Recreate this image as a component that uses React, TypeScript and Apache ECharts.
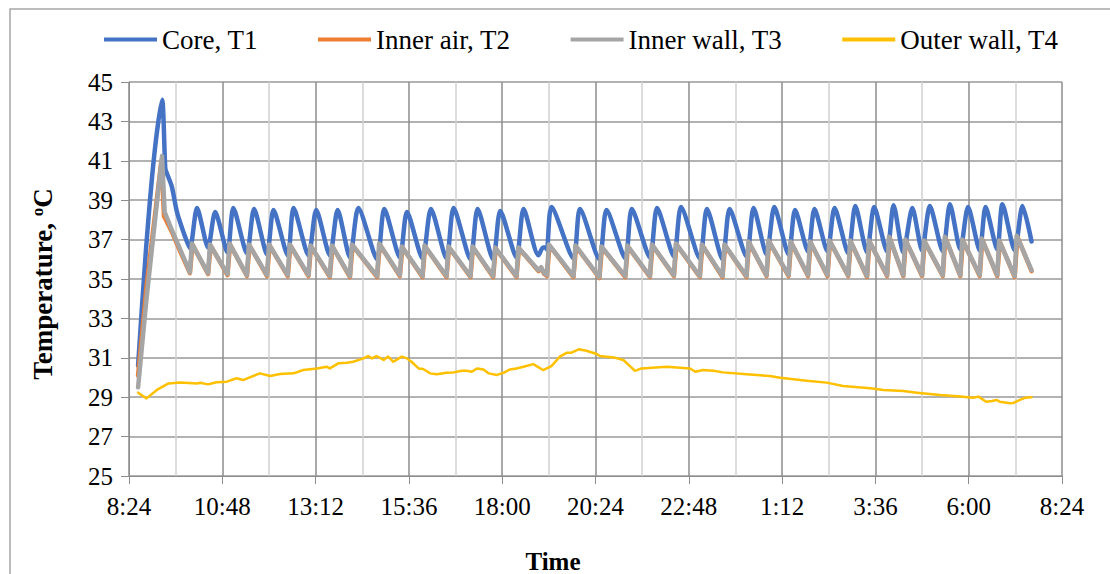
import React, { useEffect, useRef } from "react";
import * as echarts from "echarts";

// Time is in minutes elapsed since the axis origin (8:24); temperatures in °C.
const axisOriginClock = "8:24";
const axisSpanMin = 1440;
const majorStepMin = 144;

const seriesNames = ["Core, T1", "Inner air, T2", "Inner wall, T3", "Outer wall, T4"];

const coreT1: [number, number][] = [
  [14, 30.6], [26, 36.4], [39, 41.3], [51, 44.1], [56, 40.6], [58, 40.4], [66, 39.7], [74, 38.4], [86, 37.2],
  [94, 36.55], [105, 38.6], [122, 36.6], [133, 38.4], [152, 36.35], [161, 38.6], [182, 36.3], [193, 38.55],
  [213, 36.25], [223, 38.5], [245, 36.2], [254, 38.6], [277, 36.2], [289, 38.5], [310, 36.2], [322, 38.5],
  [341, 36.1], [354, 38.6], [383, 36.0], [394, 38.55], [418, 36.1], [429, 38.4], [453, 36.05], [466, 38.55],
  [490, 36.05], [501, 38.6], [527, 36.0], [538, 38.55], [562, 36.0], [573, 38.45], [598, 36.1], [609, 38.55],
  [632, 36.2], [639, 36.6], [643, 36.6], [645, 36.5], [652, 38.65], [686, 36.05], [696, 38.55],
  [726, 36.0], [737, 38.5], [766, 36.05], [776, 38.55], [804, 36.1], [815, 38.6], [841, 36.15], [852, 38.65],
  [881, 36.05], [892, 38.55], [916, 36.0], [927, 38.55], [953, 36.15], [964, 38.6], [984, 36.25], [996, 38.65],
  [1018, 36.25], [1028, 38.5], [1048, 36.4], [1058, 38.55], [1078, 36.4], [1089, 38.6], [1110, 36.3], [1121, 38.7],
  [1139, 36.35], [1150, 38.65], [1170, 36.4], [1180, 38.75], [1195, 36.35], [1209, 38.6], [1224, 36.45], [1236, 38.7],
  [1256, 36.4], [1267, 38.8], [1283, 36.5], [1295, 38.65], [1313, 36.45], [1322, 38.65], [1340, 36.5], [1348, 38.8],
  [1367, 36.45], [1379, 38.7], [1393, 36.9],
];

const innerAirT2: [number, number][] = [
  [14, 30.1], [27, 34.6], [50, 41.0], [54, 38.2], [66, 37.4], [79, 36.4],
  [94, 35.3], [98, 36.75], [122, 35.25], [126, 36.7], [152, 35.2], [156, 36.75], [182, 35.15], [186, 36.7],
  [213, 35.15], [217, 36.7], [245, 35.15], [249, 36.7], [277, 35.15], [281, 36.65], [310, 35.1], [314, 36.65],
  [341, 35.1], [345, 36.7], [383, 35.1], [387, 36.75], [418, 35.15], [422, 36.6], [453, 35.1], [457, 36.65],
  [490, 35.1], [494, 36.6], [527, 35.1], [531, 36.6], [562, 35.1], [566, 36.55], [598, 35.1], [602, 36.55],
  [632, 35.4], [636, 35.55], [641, 35.25], [645, 35.15], [649, 36.7], [686, 35.1], [690, 36.65],
  [726, 35.05], [730, 36.6], [766, 35.1], [770, 36.65], [804, 35.1], [808, 36.7], [841, 35.15], [845, 36.75],
  [881, 35.1], [885, 36.7], [916, 35.1], [920, 36.7], [953, 35.1], [957, 36.85], [984, 35.15], [988, 36.9],
  [1018, 35.15], [1022, 36.85], [1048, 35.15], [1052, 36.85], [1078, 35.15], [1082, 36.9], [1110, 35.15], [1114, 36.9],
  [1139, 35.1], [1143, 36.9], [1170, 35.15], [1174, 37.1], [1195, 35.15], [1199, 36.95], [1224, 35.15], [1228, 36.9],
  [1256, 35.15], [1260, 37.1], [1283, 35.15], [1287, 36.95], [1313, 35.15], [1317, 37.0], [1340, 35.15], [1344, 36.9],
  [1367, 35.1], [1371, 37.15], [1393, 35.4],
];

const innerWallT3: [number, number][] = [
  [14, 29.5], [27, 34.0], [51, 41.25], [55, 38.4], [66, 37.5], [79, 36.5],
  [94, 35.35], [97, 36.8], [122, 35.3], [125, 36.75], [152, 35.25], [155, 36.8], [182, 35.2], [185, 36.75],
  [213, 35.2], [216, 36.75], [245, 35.2], [248, 36.75], [277, 35.2], [280, 36.7], [310, 35.15], [313, 36.7],
  [341, 35.15], [344, 36.75], [383, 35.15], [386, 36.8], [418, 35.2], [421, 36.65], [453, 35.15], [456, 36.7],
  [490, 35.15], [493, 36.65], [527, 35.15], [530, 36.65], [562, 35.15], [565, 36.6], [598, 35.15], [601, 36.6],
  [632, 35.45], [636, 35.6], [641, 35.3], [645, 35.2], [648, 36.75], [686, 35.15], [689, 36.7],
  [726, 35.1], [729, 36.65], [766, 35.15], [769, 36.7], [804, 35.15], [807, 36.75], [841, 35.2], [844, 36.8],
  [881, 35.15], [884, 36.75], [916, 35.15], [919, 36.75], [953, 35.15], [956, 36.9], [984, 35.2], [987, 36.95],
  [1018, 35.2], [1021, 36.9], [1048, 35.2], [1051, 36.9], [1078, 35.2], [1081, 36.95], [1110, 35.2], [1113, 36.95],
  [1139, 35.15], [1142, 36.95], [1170, 35.2], [1173, 37.15], [1195, 35.2], [1198, 37.0], [1224, 35.2], [1227, 36.95],
  [1256, 35.2], [1259, 37.15], [1283, 35.2], [1286, 37.0], [1313, 35.2], [1316, 37.05], [1340, 35.2], [1343, 36.95],
  [1367, 35.15], [1370, 37.2], [1393, 35.45],
];

const outerWallT4: [number, number][] = [
  [14, 29.23], [27, 28.94], [43, 29.37], [61, 29.7], [79, 29.74], [105, 29.7], [110, 29.73], [122, 29.65],
  [135, 29.76], [151, 29.79], [166, 29.96], [176, 29.87], [202, 30.21], [218, 30.08], [233, 30.18], [254, 30.21],
  [269, 30.38], [290, 30.46], [305, 30.55], [310, 30.46], [323, 30.72], [336, 30.75], [346, 30.8], [362, 30.97],
  [369, 31.09], [375, 30.97], [382, 31.09], [393, 30.89], [400, 31.06], [408, 30.8], [421, 31.06], [429, 30.97],
  [436, 30.8], [447, 30.46], [454, 30.43], [465, 30.21], [475, 30.16], [490, 30.24], [501, 30.26], [506, 30.29],
  [514, 30.34], [521, 30.34], [529, 30.29], [537, 30.46], [547, 30.41], [555, 30.21], [568, 30.13], [578, 30.24],
  [588, 30.41], [598, 30.46], [609, 30.55], [624, 30.68], [639, 30.38], [652, 30.58], [665, 31.06], [676, 31.26],
  [683, 31.26], [694, 31.43], [706, 31.36], [722, 31.19], [727, 31.09], [748, 31.02], [763, 30.89], [781, 30.34],
  [791, 30.46], [830, 30.55], [866, 30.46], [874, 30.29], [886, 30.38], [902, 30.34], [917, 30.26], [953, 30.16],
  [989, 30.08], [1005, 29.99], [1046, 29.84], [1077, 29.74], [1102, 29.57], [1144, 29.45], [1164, 29.37],
  [1195, 29.31], [1216, 29.23], [1252, 29.11], [1283, 29.03], [1303, 28.97], [1311, 29.03], [1323, 28.77],
  [1332, 28.81], [1339, 28.86], [1344, 28.77], [1360, 28.69], [1365, 28.71], [1375, 28.86], [1383, 28.97], [1393, 29.0],
];

const seriesData = [coreT1, innerAirT2, innerWallT3, outerWallT4];
const seriesColors = ["#4472C4", "#ED7D31", "#A5A5A5", "#FFC000"];
const seriesWidths = [4.5, 4.5, 4.5, 2.5];
const seriesSmooth = [0.25, 0, 0, 0];

const FONT = "Liberation Serif";

function clockLabel(v: number): string {
  const [h0, m0] = axisOriginClock.split(":").map(Number);
  const total = Math.round(h0 * 60 + m0 + v);
  const h = Math.floor(total / 60) % 24;
  const m = total % 60;
  return `${h}:${m < 10 ? "0" + m : m}`;
}

export default function App() {
  const ref = useRef<HTMLDivElement>(null);
  useEffect(() => {
    if (!ref.current) return;
    const chart = echarts.init(ref.current, undefined, { renderer: "svg" });
    chart.setOption({
      animation: false,
      backgroundColor: "#ffffff",
      textStyle: { fontFamily: FONT },
      legend: {
        data: seriesNames.map((name) => ({ name, icon: "rect" })),
        left: 99,
        top: 21,
        itemWidth: 53,
        itemHeight: 4,
        itemGap: 60,
        textStyle: { fontFamily: FONT, fontSize: 27, color: "#000" },
      },
      grid: { left: 129, right: 48, top: 82, bottom: 98, containLabel: false },
      xAxis: {
        type: "value",
        min: 0,
        max: axisSpanMin,
        interval: majorStepMin,
        axisLine: { show: true, lineStyle: { color: "#8c8c8c", width: 1 } },
        axisTick: { show: true, length: 8, lineStyle: { color: "#8c8c8c" } },
        axisLabel: {
          formatter: (v: number) => clockLabel(v),
          fontFamily: FONT,
          fontSize: 25,
          color: "#000",
          margin: 18,
        },
        splitLine: { show: true, lineStyle: { color: "#8c8c8c", width: 1.5 } },
        minorTick: { show: false, splitNumber: 2 },
        minorSplitLine: { show: true, lineStyle: { color: "#d0d0d0", width: 1.5 } },
      },
      yAxis: {
        type: "value",
        min: 25,
        max: 45,
        interval: 2,
        axisLine: { show: true, lineStyle: { color: "#8c8c8c", width: 1 } },
        axisTick: { show: true, length: 8, lineStyle: { color: "#8c8c8c" } },
        axisLabel: { fontFamily: FONT, fontSize: 25, color: "#000", margin: 16 },
        splitLine: { show: true, lineStyle: { color: "#999999", width: 1.5 } },
      },
      graphic: [
        {
          type: "rect",
          silent: true,
          z: -1,
          shape: { x: 10, y: 9, width: 1200, height: 700 },
          style: { fill: "none", stroke: "#a6a6a6", lineWidth: 1.5 },
        },
        {
          type: "text",
          x: 43,
          y: 284,
          rotation: Math.PI / 2,
          style: {
            text: "Temperature, {sup|o}C",
            font: `bold 27px ${FONT}`,
            fill: "#000",
            align: "center",
            verticalAlign: "middle",
            rich: {
              sup: { font: `bold 17px ${FONT}`, fill: "#000", verticalAlign: "top", padding: [0, 0, 12, 0] },
            },
          },
        },
        {
          type: "text",
          x: 553,
          y: 561,
          style: {
            text: "Time",
            font: `bold 25px ${FONT}`,
            fill: "#000",
            align: "center",
            verticalAlign: "middle",
          },
        },
      ],
      series: seriesNames.map((name, i) => ({
        name,
        type: "line",
        data: seriesData[i],
        symbol: "none",
        showSymbol: false,
        smooth: seriesSmooth[i],
        color: seriesColors[i],
        lineStyle: { color: seriesColors[i], width: seriesWidths[i], cap: "round", join: "round" },
        itemStyle: { color: seriesColors[i] },
      })),
    });
    return () => chart.dispose();
  }, []);
  return (
    <div
      ref={ref}
      style={{ position: "fixed", left: 0, top: 0, width: 1110, height: 574, background: "#fff" }}
    />
  );
}
